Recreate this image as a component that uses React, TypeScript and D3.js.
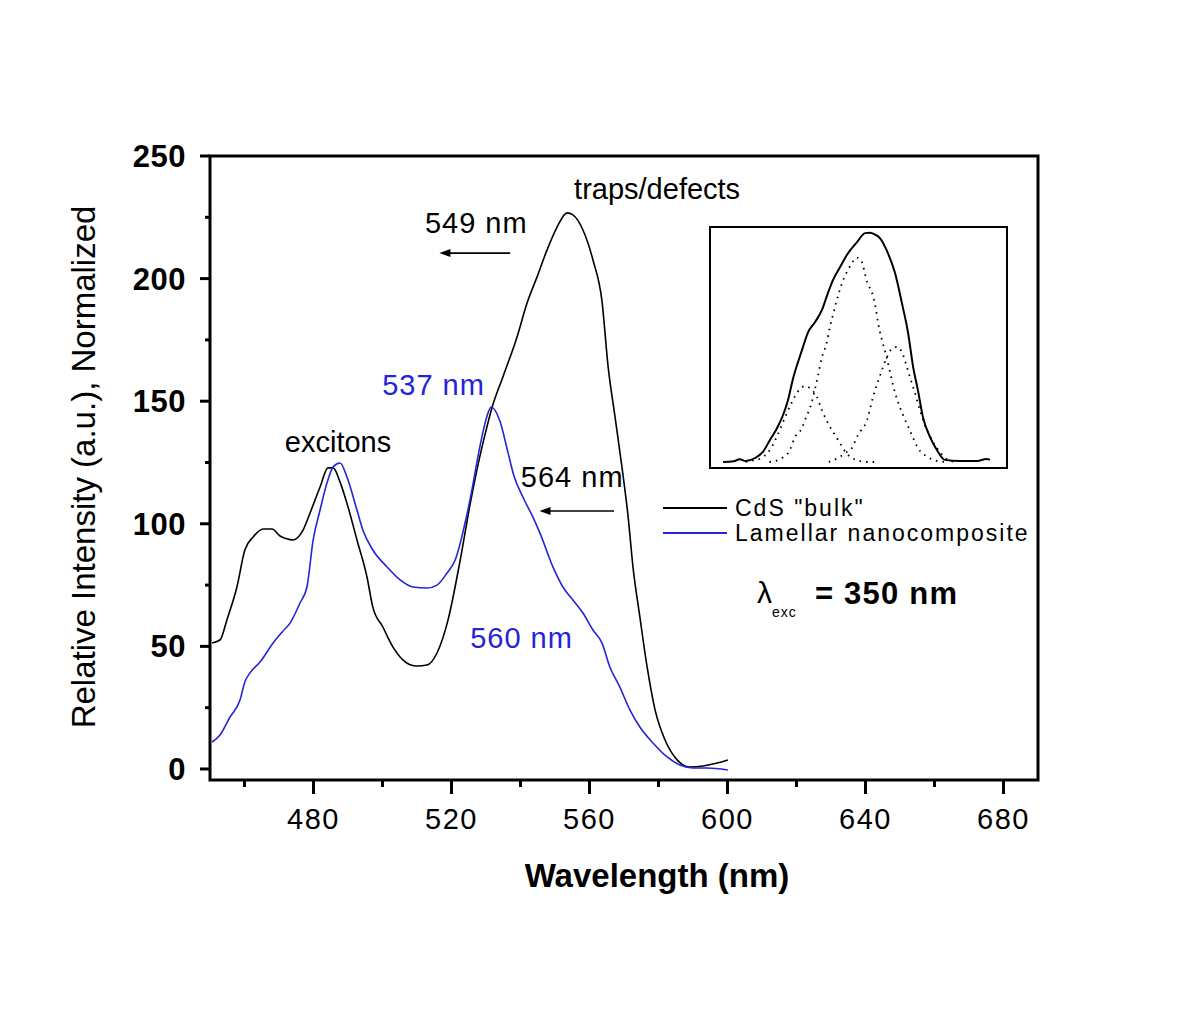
import React from "react";
import * as d3 from "d3";

const FONT = "'Liberation Sans', Arial, Helvetica, sans-serif";

// ---- main data (wavelength nm, relative intensity) ----
const bulkSeries: [number, number][] = [
  [450.6, 51.4], [452.9, 52.6], [454.9, 60.8], [457.8, 74.2], [460.1, 89.3], [462.5, 94.6],
  [465.4, 97.9], [468, 97.9], [470.3, 95], [472, 94], [474.1, 93.4], [477, 97.5], [479, 104.4],
  [481.9, 115], [484.2, 122.8], [485.7, 122.8], [487.7, 117], [490, 106.9], [492.6, 93.4],
  [495.5, 78.3], [497.2, 66], [500.1, 57.9], [503, 49.8], [505.9, 44.5], [508, 42.5],
  [510, 42], [512.9, 42.4], [515.8, 47.3], [519, 60.8], [522.5, 85], [525.4, 108],
  [528.3, 128], [530, 138], [531.7, 147.2], [534.9, 159.9], [539, 176.2], [541.9, 190],
  [544.8, 200.7], [547.7, 211.7], [550.6, 221], [553.5, 226.8], [555.2, 226], [558.1, 219.8],
  [561, 207.6], [563.6, 191], [565.4, 164], [567.4, 143.6], [569.4, 123.2], [571.2, 102.8],
  [572.6, 82.4], [574.6, 62], [576.7, 41.6], [579, 24.1], [581.9, 11.8], [585.4, 3.7],
  [589.1, 0.8], [592.9, 1.2], [597, 2.4], [600.1, 3.7],
];

const lamellarSeries: [number, number][] = [
  [450.6, 11], [452.9, 13.9], [455.8, 21.2], [458.7, 28.1], [460.1, 35.5], [461.6, 39.2],
  [464.5, 43.6], [468.3, 51.4], [471, 56], [473.2, 59.5], [476.1, 67.7], [478.1, 74.2],
  [479.9, 93.4], [481.9, 105.6], [483.9, 116.6], [485.7, 123.2], [487.7, 124.8], [489.7, 119.1],
  [492.6, 105.6], [494.3, 97.5], [497.2, 89.3], [501.3, 82.4], [505.1, 77.1], [508.8, 74.2],
  [512.9, 73.8], [515.8, 75], [518.7, 79.9], [521, 85], [525.4, 110], [528.3, 132],
  [530.3, 144], [531.5, 147.6], [534, 142], [536.4, 128.9], [538, 120], [541, 110],
  [543.5, 103], [545.7, 96], [549.4, 82.4], [552.3, 74.2], [555.2, 68.9], [558.1, 63.6],
  [561, 56.7], [563.6, 51.4], [565.9, 41.6], [568.8, 33.4], [571.7, 24.1], [574.6, 17.1],
  [578.4, 10.6], [582.5, 4.9], [586.2, 1.6], [590, 0.4], [594, 0.4], [600.1, -0.4],
];

const xMajorTicks = [480, 520, 560, 600, 640, 680];
const xMinorTicks = [460, 500, 540, 580, 620, 660];
const yMajorTicks = [0, 50, 100, 150, 200, 250];
const yMinorTicks = [25, 75, 125, 175, 225];

const seriesNames = ['CdS "bulk"', "Lamellar nanocomposite"];
const seriesColors = ["#000000", "#2424d8"];

// ---- inset data (unitless position 0-100, intensity 0-100) ----
const insetEnvelope: [number, number][] = [
  [4.4, 0], [8, 0.3], [10, 1.2], [12, 0.4], [15.2, 1.7], [17.8, 4.3], [20.2, 9.4], [22.6, 14.5],
  [24.6, 20], [26.3, 26.5], [27.9, 35.2], [31, 47.7], [33, 55.2], [35.4, 59.6], [37.7, 64.7],
  [39.7, 71.9], [41.4, 77.4], [43.8, 83], [46.5, 88.9], [49.5, 93.6], [52.2, 97.4], [53.9, 97.6],
  [55.5, 96.8], [57.2, 95.3], [59.9, 88.9], [62.3, 80.4], [64.6, 67.7], [66.7, 54.9], [68.4, 40.4],
  [70, 30.6], [71.7, 19.1], [74.1, 10.6], [76.4, 5.1], [79.1, 0.9], [84.2, 0.4], [90, 0.4],
  [93, 1.3], [94.3, 1],
];
const insetPeakA: [number, number][] = [
  [12, 0], [14, 0.5], [17, 1.5], [19.5, 4], [22.6, 11], [24.6, 17], [27.6, 25.5], [29.6, 30],
  [32, 32.3], [34, 31], [36, 27.7], [37.7, 22], [40.4, 15], [43.1, 9.4], [46.1, 3.5], [49, 1],
  [53, 0], [57, 0],
];
const insetPeakB: [number, number][] = [
  [20, 0], [24, 1.5], [26.9, 5.1], [28.6, 10.6], [31, 14.5], [32, 17.9], [34, 24.3], [36.4, 37],
  [37.7, 44.7], [39.1, 49.8], [40.4, 57.4], [41.4, 62.6], [43.1, 70.6], [44.4, 76], [46.8, 82.5],
  [47.8, 84.7], [49.3, 87], [50.8, 86], [52.9, 76.6], [54.9, 70.6], [55.9, 64.7], [56.6, 59.1],
  [57.9, 51.9], [59.3, 45.5], [60.6, 38.3], [61.6, 32.8], [63.3, 25.5], [65, 20], [67.7, 12.3],
  [70, 6], [73.4, 2.1], [77, 0.3], [80, 0],
];
const insetPeakC: [number, number][] = [
  [40, 0], [43.1, 1.7], [45.5, 3.8], [47.8, 6], [49.8, 11.5], [52.9, 17.9], [54.9, 27.7],
  [57.2, 36.6], [59.6, 44.7], [61.5, 48.5], [63, 49], [64.6, 46.8], [66.3, 40.4], [67.3, 36.2],
  [69, 29.4], [70.7, 22], [72.4, 15.7], [74.7, 9.4], [77.4, 4.3], [80.1, 0.9], [83, 0],
];

export default function App() {
  const x = d3.scaleLinear().domain([450, 690]).range([210, 1038]);
  const y = d3.scaleLinear().domain([-4.5, 250]).range([780, 156]);

  const line = d3
    .line<[number, number]>()
    .x((d) => x(d[0]))
    .y((d) => y(d[1]))
    .curve(d3.curveMonotoneX);

  const ix = d3.scaleLinear().domain([0, 100]).range([710, 1007]);
  const iy = d3.scaleLinear().domain([0, 100]).range([462, 227]);
  const iline = d3
    .line<[number, number]>()
    .x((d) => ix(d[0]))
    .y((d) => iy(d[1]))
    .curve(d3.curveMonotoneX);

  const x0 = x.range()[0];
  const x1 = x.range()[1];
  const y0 = y.range()[0];
  const y1 = y.range()[1];

  const arrow = (xa: number, xb: number, yv: number, key: string) => {
    const py = y(yv);
    const pa = x(xa);
    const pb = x(xb);
    return (
      <g key={key}>
        <line x1={pa} x2={pb + 8} y1={py} y2={py} stroke="#000" strokeWidth={1.6} />
        <path d={`M${pb},${py} L${pb + 11},${py - 4} L${pb + 11},${py + 4} Z`} fill="#000" />
      </g>
    );
  };

  return (
    <svg
      width={1200}
      height={1028}
      style={{ position: "absolute", left: 0, top: 0, background: "#fff" }}
      fontFamily={FONT}
    >
      <rect x={0} y={0} width={1200} height={1028} fill="#fff" />

      {/* curves */}
      <path d={line(bulkSeries) || ""} fill="none" stroke={seriesColors[0]} strokeWidth={1.6} />
      <path d={line(lamellarSeries) || ""} fill="none" stroke={seriesColors[1]} strokeWidth={1.6} />

      {/* frame */}
      <rect x={x0} y={y1} width={x1 - x0} height={y0 - y1} fill="none" stroke="#000" strokeWidth={3} />

      {/* x ticks */}
      {xMajorTicks.map((t) => (
        <g key={"xM" + t}>
          <line x1={x(t)} x2={x(t)} y1={y0} y2={y0 + 14} stroke="#000" strokeWidth={3} />
          <text x={x(t)} y={y0 + 49} textAnchor="middle" fontSize={29} letterSpacing={1.5}>
            {t}
          </text>
        </g>
      ))}
      {xMinorTicks.map((t) => (
        <line key={"xm" + t} x1={x(t)} x2={x(t)} y1={y0} y2={y0 + 7} stroke="#000" strokeWidth={3} />
      ))}

      {/* y ticks */}
      {yMajorTicks.map((t) => (
        <g key={"yM" + t}>
          <line x1={x0 - 10} x2={x0} y1={y(t)} y2={y(t)} stroke="#000" strokeWidth={3} />
          <text x={x0 - 24} y={y(t) + 11} textAnchor="end" fontSize={31} fontWeight="bold" letterSpacing={0.5}>
            {t}
          </text>
        </g>
      ))}
      {yMinorTicks.map((t) => (
        <line key={"ym" + t} x1={x0 - 5} x2={x0} y1={y(t)} y2={y(t)} stroke="#000" strokeWidth={3} />
      ))}

      {/* axis titles */}
      <text x={657} y={887} textAnchor="middle" fontSize={33} fontWeight="bold">
        Wavelength (nm)
      </text>
      <text transform="translate(95,467) rotate(-90)" textAnchor="middle" fontSize={33}>
        Relative Intensity (a.u.), Normalized
      </text>

      {/* annotations */}
      <text x={x(579.6)} y={y(232.5)} textAnchor="middle" fontSize={29}>
        traps/defects
      </text>
      <text x={x(512.3)} y={y(218.6)} fontSize={29} letterSpacing={1}>
        549 nm
      </text>
      {arrow(537, 516.5, 210.4, "a1")}
      <text x={x(499.9)} y={y(152.5)} fontSize={29} letterSpacing={1} fill={seriesColors[1]}>
        537 nm
      </text>
      <text x={x(471.7)} y={y(129.3)} fontSize={29}>
        excitons
      </text>
      <text x={x(540.1)} y={y(115)} fontSize={29} letterSpacing={1}>
        564 nm
      </text>
      {arrow(567.1, 545.5, 105.2, "a2")}
      <text x={x(525.4)} y={y(49.3)} fontSize={29} letterSpacing={1} fill={seriesColors[1]}>
        560 nm
      </text>

      {/* legend */}
      {seriesNames.map((n, i) => (
        <g key={n}>
          <line x1={663} x2={727} y1={508 + i * 25} y2={508 + i * 25} stroke={seriesColors[i]} strokeWidth={1.8} />
          <text x={735} y={516 + i * 25} fontSize={23} letterSpacing={2}>
            {n}
          </text>
        </g>
      ))}

      {/* excitation label */}
      <text x={757} y={603} fontSize={30}>
        λ
      </text>
      <text x={772} y={617} fontSize={14} letterSpacing={1}>
        exc
      </text>
      <text x={815} y={604} fontSize={31} fontWeight="bold" letterSpacing={1.2}>
        = 350 nm
      </text>

      {/* inset */}
      <rect x={710} y={227} width={297} height={241} fill="#fff" stroke="#000" strokeWidth={2} />
      {[insetPeakA, insetPeakB, insetPeakC].map((s, i) => (
        <path
          key={"ip" + i}
          d={iline(s) || ""}
          fill="none"
          stroke="#000"
          strokeWidth={1.8}
          strokeDasharray="1.6 5"
        />
      ))}
      <path d={iline(insetEnvelope) || ""} fill="none" stroke="#000" strokeWidth={2} />
    </svg>
  );
}
